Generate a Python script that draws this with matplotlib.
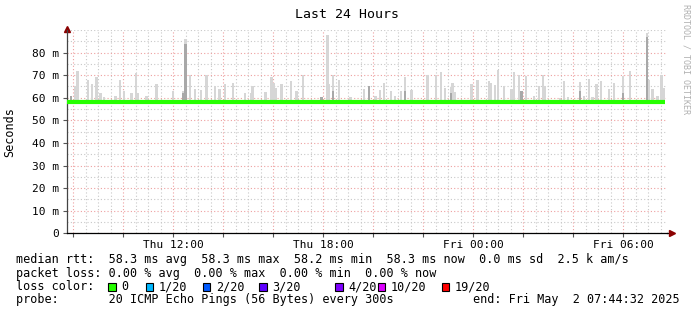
#%%
# smokeping style "last 24 hours" graph, redrawn with matplotlib

# IMPORTS #######################################

import matplotlib
matplotlib.use('Agg')
import matplotlib.pyplot as plt
from matplotlib.patches import Rectangle
from matplotlib.ticker import MultipleLocator
import numpy as np

# SETUP #########################################

plt.rcParams.update({
    'font.family': ['DejaVu Sans Mono'],
    'font.size': 8,
})

# DATA ##########################################

# time axis: hours since Thu 00:00, window ends Fri 07:44:32
t_start = 7.742
t_end = 31.742

median_ms = 58.3

# smoke spikes (max rtt per 5 min step, ms)
smoke_hours = [
    7.90, 8.06, 8.16, 8.59, 8.75, 8.93, 9.08, 9.23, 9.69, 9.86,
    10.03, 10.33, 10.50, 10.59, 10.93, 11.33, 11.99, 12.39, 12.49, 12.66,
    12.86, 13.10, 13.33, 13.66, 13.84, 14.06, 14.39, 14.86, 15.10, 15.17,
    15.69, 15.93, 16.01, 16.09, 16.33, 16.70, 16.93, 17.18, 17.93, 18.17,
    18.23, 18.39, 18.62, 19.09, 19.62, 19.83, 20.09, 20.26, 20.42, 20.70,
    20.86, 21.10, 21.26, 21.53, 22.17, 22.50, 22.70, 22.86, 23.10, 23.17,
    23.26, 23.93, 24.17, 24.62, 24.70, 24.86, 24.99, 25.23, 25.53, 25.62,
    25.83, 25.93, 26.10, 26.42, 26.62, 26.78, 26.86, 27.46, 27.62, 27.79,
    28.26, 28.43, 28.62, 28.77, 28.93, 29.10, 29.42, 29.62, 29.99, 30.26,
    30.94, 31.02, 31.17, 31.37, 31.53, 31.62,
]
smoke_max_ms = [
    61, 65, 72, 68, 66, 69, 62, 60.5, 61, 68,
    63, 62, 71, 62, 61, 66, 63, 63, 86, 70,
    64, 63.5, 70, 65, 64, 66, 66.6, 62, 62, 65,
    62.5, 69, 66.5, 64.3, 66, 67.4, 63, 70.3, 60.5, 88,
    66, 70.3, 68, 60.5, 64, 65, 61, 63.5, 66.5, 63,
    61, 63, 69.3, 63.5, 70.3, 70.3, 71.2, 64.3, 64.6, 66.6,
    62.5, 66, 68, 67.4, 66.5, 65.5, 72.5, 65, 64, 71.2,
    70.3, 63, 69.6, 61, 65, 70.3, 65, 60, 67.4, 60.5,
    67, 61, 68.3, 60.5, 66, 67.4, 64, 66.6, 69.6, 71.8,
    88.8, 68, 64, 61, 70.3, 64.3,
]

# denser (darker) part of the smoke
dense_hours = [7.90, 12.39, 12.49, 17.93, 18.39, 19.83, 21.26, 23.10, 25.93, 28.26, 29.99, 30.94]
dense_max_ms = [61, 62, 84, 60.5, 63, 65, 63, 62, 63, 63, 62, 87]

# axis ticks
y_ticks_ms = [0, 10, 20, 30, 40, 50, 60, 70, 80]
x_label_hours = [12, 18, 24, 30]
x_labels = ['Thu 12:00', 'Thu 18:00', 'Fri 00:00', 'Fri 06:00']

# legend
loss_labels = ['0', '1/20', '2/20', '3/20', '4/20', '10/20', '19/20']
loss_colors = ['#26ff00', '#00b8ff', '#0059ff', '#5e00ff', '#7e00ff', '#dd00ff', '#ff0000']
legend_lines = [
    'median rtt:  58.3 ms avg  58.3 ms max  58.2 ms min  58.3 ms now  0.0 ms sd  2.5 k am/s',
    'packet loss: 0.00 % avg  0.00 % max  0.00 % min  0.00 % now',
    'loss color:',
    'probe:       20 ICMP Echo Pings (56 Bytes) every 300s',
]
end_text = 'end: Fri May  2 07:44:32 2025'

# FIGURE ########################################

W, H = 697, 315
fig = plt.figure(figsize=(W / 100, H / 100), dpi=100)
fig.patch.set_facecolor('white')

# plot area in pixels: x 67..667, y 30..233.3
ax = fig.add_axes([67 / W, (H - 233.3) / H, 600 / W, 203.3 / H])

# AXIS LIMITS ################

ax.set_xlim(t_start, t_end)
ax.set_ylim(0, 90)

# GRIDS ######################

ax.xaxis.set_major_locator(MultipleLocator(2))
ax.xaxis.set_minor_locator(MultipleLocator(0.5))
ax.yaxis.set_major_locator(MultipleLocator(10))
ax.yaxis.set_minor_locator(MultipleLocator(5))

ax.grid(which='minor', color='#c8c8c8', linestyle=(0, (1, 2)), linewidth=0.8)
ax.grid(which='major', color='#eea0a0', linestyle=(0, (1, 2)), linewidth=0.8)
ax.set_axisbelow(True)

# TICKS AND LABELS ###########

ax.set_yticks(y_ticks_ms)
ax.set_yticklabels(['0' if v == 0 else f'{v} m' for v in y_ticks_ms])

major_x = ax.get_xticks()
ax.set_xticks(major_x)
ax.set_xticklabels([
    x_labels[x_label_hours.index(int(round(h)))] if int(round(h)) in x_label_hours else ''
    for h in major_x
])
ax.set_xlim(t_start, t_end)

ax.tick_params(axis='both', which='major', length=3, width=0.8, color='#555555',
               labelsize=8, pad=2)
ax.tick_params(axis='both', which='minor', length=0)
ax.tick_params(axis='y', pad=3)

for side in ['top', 'right']:
    ax.spines[side].set_visible(False)
ax.spines['left'].set_linewidth(0.9)
ax.spines['bottom'].set_linewidth(0.9)
ax.spines['left'].set_color('#444444')

# PLOTTING ###################

bar_w = 0.1  # a bit more than one 5 minute step, so the smoke reads like the original
ax.bar(smoke_hours, np.array(smoke_max_ms) - 58.0, bottom=58.0, width=bar_w,
       color='#d6d6d6', linewidth=0, zorder=2)
ax.bar(dense_hours, np.array(dense_max_ms) - 58.0, bottom=58.0, width=bar_w,
       color='#a8a8a8', linewidth=0, zorder=3)

ax.plot([t_start, t_end - 0.08], [median_ms, median_ms],
        color='#26ff00', linewidth=3, solid_capstyle='butt', zorder=4)

# axis arrows
ax.plot([1.0, 1.008], [0, 0], transform=ax.transAxes, color='black',
        linewidth=0.9, clip_on=False)
ax.plot([1.008], [0], transform=ax.transAxes, marker='>', markersize=4,
        color='#8b0000', clip_on=False)
ax.plot([0], [1.005], transform=ax.transAxes, marker='^', markersize=4,
        color='#8b0000', clip_on=False)

# TEXTS ######################

fig.text(347 / W, 1 - 14 / H, 'Last 24 Hours', ha='center', va='center', fontsize=9.5)
fig.text(10 / W, 1 - 132 / H, 'Seconds', rotation=90, ha='center', va='center', fontsize=8.5)
fig.text(686 / W, 1 - 4 / H, 'RRDTOOL / TOBI OETIKER', rotation=270, ha='center',
         va='top', fontsize=6, color='#b0b0b0')

# LEGEND ####################

row_y = [260, 273.3, 286.7, 300]
for line, y in zip(legend_lines, row_y):
    fig.text(16 / W, 1 - y / H, line, ha='left', va='center', fontsize=8.5)
fig.text(680 / W, 1 - row_y[3] / H, end_text, ha='right', va='center', fontsize=8.5)

box_x = [108.3, 145.7, 202.7, 259.3, 335, 377.7, 441.7]
for bx, lab, col in zip(box_x, loss_labels, loss_colors):
    fig.add_artist(Rectangle((bx / W, 1 - 290.5 / H), 7.5 / W, 8 / H,
                             transform=fig.transFigure, facecolor=col,
                             edgecolor='black', linewidth=0.8))
    fig.text((bx + 13) / W, 1 - row_y[2] / H, lab, ha='left', va='center', fontsize=8.5)

# EXPORT #########################################

plt.savefig('out.png', dpi=100, facecolor='white')
# %%
